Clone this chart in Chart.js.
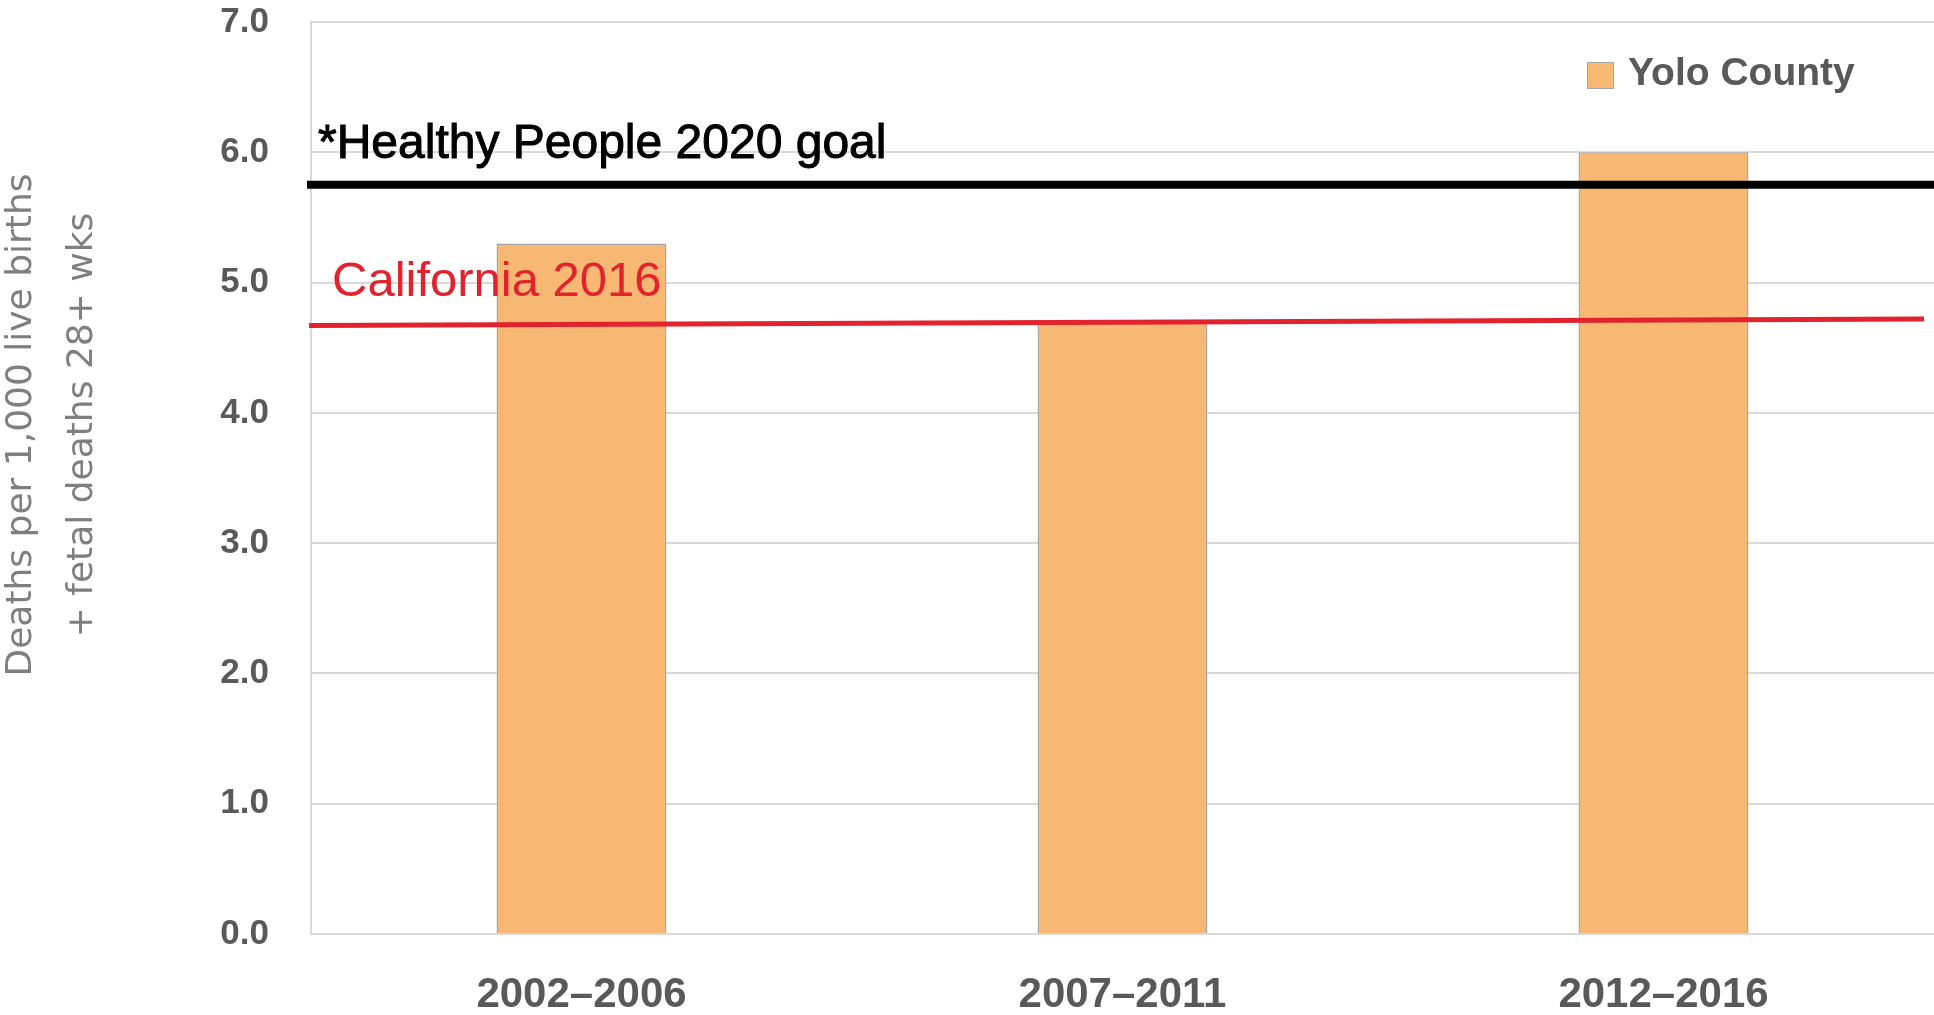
<!DOCTYPE html>
<html>
<head>
<meta charset="utf-8">
<script src="https://cdn.jsdelivr.net/npm/chart.js@4.4.1/dist/chart.umd.min.js"></script>
<style>
  html, body { margin: 0; padding: 0; background: #fff; }
  #wrap { width: 1934px; height: 1015px; position: relative; }
</style>
</head>
<body>
<div id="wrap"><canvas id="chart"></canvas></div>
<script>
const PERIODS     = ['2002–2006', '2007–2011', '2012–2016'];
const YOLO_RATE   = [5.3, 4.7, 6.0];
const HP2020_GOAL = 5.75;
const CA_2016     = [4.67, 4.72];   // hand-drawn line: left end, right end
const GOAL_LABEL  = '*Healthy People 2020 goal';
const CA_LABEL    = 'California 2016';
const Y_TITLE     = ['Deaths per 1,000 live births', '+ fetal deaths 28+ wks'];

const BAR_FILL  = '#f6b873';
const BAR_EDGE  = '#a6a6a6';
const GRID      = '#d9d9d9';
const TICK_CLR  = '#595959';
const CA_RED    = '#e2222d';

// reference lines, their labels, the legend and the y title
const overlay = {
  id: 'overlay',
  afterDatasetsDraw(chart) {
    const { ctx, chartArea: a, scales: { y } } = chart;
    ctx.save();

    // ── Healthy People goal ──
    const gy = y.getPixelForValue(HP2020_GOAL);
    ctx.strokeStyle = '#000';
    ctx.lineWidth = 8;
    ctx.beginPath();
    ctx.moveTo(a.left - 4, gy);
    ctx.lineTo(chart.width, gy);
    ctx.stroke();
    ctx.fillStyle = '#000';
    ctx.font = '48px "Liberation Sans", Arial, sans-serif';
    ctx.textBaseline = 'alphabetic';
    ctx.textAlign = 'left';
    ctx.fillText(GOAL_LABEL, a.left + 7, gy - 27);
    ctx.lineWidth = 1;
    ctx.strokeText(GOAL_LABEL, a.left + 7, gy - 27);

    // ── California 2016 ──
    const y0 = y.getPixelForValue(CA_2016[0]);
    const y1 = y.getPixelForValue(CA_2016[1]);
    ctx.strokeStyle = CA_RED;
    ctx.lineWidth = 5;
    ctx.beginPath();
    ctx.moveTo(a.left - 2, y0);
    ctx.lineTo(a.right - 10, y1);
    ctx.stroke();
    ctx.fillStyle = CA_RED;
    ctx.font = '49px "Liberation Sans", Arial, sans-serif';
    ctx.fillText(CA_LABEL, a.left + 21, y0 - 30);

    // ── legend ──
    const ds = chart.data.datasets[0];
    const lx = a.right - 347, ly = 62;
    ctx.fillStyle = ds.backgroundColor;
    ctx.fillRect(lx, ly, 27, 27);
    ctx.strokeStyle = ds.borderColor;
    ctx.lineWidth = 1;
    ctx.strokeRect(lx + 0.5, ly + 0.5, 26, 26);
    ctx.fillStyle = TICK_CLR;
    ctx.font = 'bold 39px "Liberation Sans", Arial, sans-serif';
    ctx.textBaseline = 'middle';
    ctx.fillText(ds.label, lx + 41, ly + 12);

    // ── y title ──
    ctx.translate(0, 425);
    ctx.rotate(-Math.PI / 2);
    ctx.fillStyle = '#7f7f7f';
    ctx.font = '36px "DejaVu Sans", Verdana, sans-serif';
    ctx.textAlign = 'center';
    ctx.fillText(Y_TITLE[0], 0, 22);
    ctx.fillText(Y_TITLE[1], 0, 83);
    ctx.restore();
  }
};

new Chart(document.getElementById('chart'), {
  type: 'bar',
  data: {
    labels: PERIODS,
    datasets: [{
      label: 'Yolo County',
      data: YOLO_RATE,
      backgroundColor: BAR_FILL,
      borderColor: BAR_EDGE,
      borderWidth: 1.5,
      categoryPercentage: 1,
      barPercentage: 0.314,
    }],
  },
  options: {
    responsive: true,
    maintainAspectRatio: false,
    animation: false,
    layout: { padding: { top: 22, right: 0, bottom: 0, left: 0 } },
    plugins: {
      legend: { display: false },
      tooltip: { enabled: false },
    },
    scales: {
      x: {
        grid: { display: false },
        border: { display: true, color: GRID, width: 2 },
        ticks: {
          color: TICK_CLR,
          font: { family: '"Liberation Sans", Arial, sans-serif', size: 42, weight: 'bold' },
          padding: 28,
          maxRotation: 0,
        },
        afterFit: s => { s.height = 81; s.paddingLeft = 0; s.paddingRight = 0; },
      },
      y: {
        min: 0,
        max: 7,
        grid: { color: GRID, lineWidth: 2, drawTicks: false },
        border: { display: true, color: GRID, width: 2 },
        ticks: {
          stepSize: 1,
          color: TICK_CLR,
          padding: 42,
          font: { family: '"Liberation Sans", Arial, sans-serif', size: 35, weight: 'bold' },
          callback: v => v.toFixed(1),
        },
        afterFit: s => { s.width = 311; s.paddingTop = 0; s.paddingBottom = 0; },
      },
    },
  },
  plugins: [overlay],
});
</script>
</body>
</html>
